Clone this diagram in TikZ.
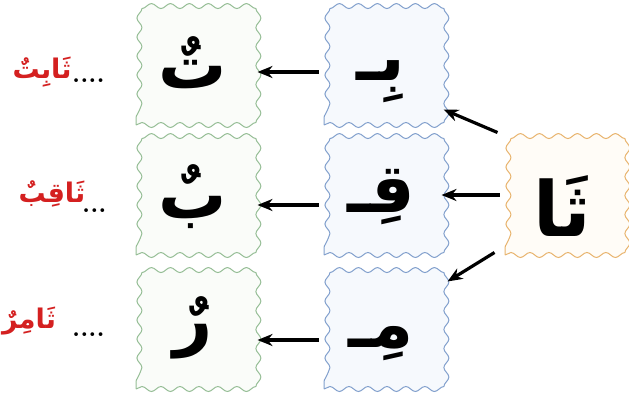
\documentclass[tikz,border=0pt]{standalone}
\usepackage{fontspec}
\usetikzlibrary{decorations.pathmorphing,arrows.meta}
\TeXXeTstate=1
\newfontfamily\arabicfont[Script=Arabic]{DejaVu Sans}
\definecolor{gbord}{RGB}{150,190,150}
\definecolor{gfill}{RGB}{250,252,249}
\definecolor{bbord}{RGB}{130,160,205}
\definecolor{bfill}{RGB}{246,249,253}
\definecolor{obord}{RGB}{232,180,110}
\definecolor{ofill}{RGB}{255,252,247}
\definecolor{wordred}{RGB}{212,32,32}
\tikzset{
  wavybox/.style={draw, decorate, decoration={snake, amplitude=2.5pt, segment length=18.99pt},
    minimum width=114pt, minimum height=114pt, inner sep=0pt, line width=1pt},
  gbox/.style={wavybox, draw=gbord, fill=gfill},
  bbox/.style={wavybox, draw=bbord, fill=bfill},
  obox/.style={wavybox, draw=obord, fill=ofill},
  letter/.style={anchor=base, inner sep=0pt, font=\arabicfont\bfseries\fontsize{68}{72}\selectfont},
  bigletter/.style={letter, font=\arabicfont\bfseries\fontsize{76}{80}\selectfont},
  arr/.style={-{Stealth[length=15pt,width=12pt]}, line width=3.2pt, black},
  word/.style={text=wordred, font=\arabicfont\bfseries\fontsize{27}{30}\selectfont, inner sep=0pt},
  dots/.style={font=\bfseries\fontsize{26}{28}\selectfont, inner sep=0pt, anchor=base west}
}
\begin{document}
\begin{tikzpicture}[x=1pt,y=-1pt]
\useasboundingbox (0,0) rectangle (629,402);
\fill[white] (0,0) rectangle (629,402);
% green boxes
\node[gbox] (g1) at (193,68) {};
\node[gbox] (g2) at (193,198) {};
\node[gbox] (g3) at (193,332) {};
% blue boxes
\node[bbox] (b1) at (381,68) {};
\node[bbox] (b2) at (381,198) {};
\node[bbox] (b3) at (381,332) {};
% orange box
\node[obox] (o) at (562,198) {};
% letters
\node[letter] (lg1) at ([shift={(0,20)}]g1.center) {\beginR تٌ\endR};
\node[letter] (lg2) at ([shift={(0,20)}]g2.center) {\beginR بٌ\endR};
\node[letter] (lg3) at ([shift={(0,10)}]g3.center) {\beginR رٌ\endR};
\node[letter] (lb1) at ([shift={(0,12)}]b1.center) {\beginR بِـ\endR};
\node[letter] (lb2) at ([shift={(0,14)}]b2.center) {\beginR قِـ\endR};
\node[letter] (lb3) at ([shift={(0,15)}]b3.center) {\beginR مِـ\endR};
\node[bigletter] (lo) at ([shift={(0,38)}]o.center) {\beginR ثَا\endR};
% arrows
\draw[arr] ([shift={(-5,4)}]b1.west) -- ([shift={(7,4)}]g1.east);
\draw[arr] ([shift={(-5,7)}]b2.west) -- ([shift={(7,7)}]g2.east);
\draw[arr] ([shift={(-5,8)}]b3.west) -- ([shift={(7,8)}]g3.east);
\draw[arr] ([shift={(-5,-3)}]o.west) -- ([shift={(3,-3)}]b2.east);
\draw[arr] ([shift={(-7,-8)}]o.north west) -- ([shift={(5,-16)}]b1.south east);
\draw[arr] ([shift={(-10,-3)}]o.south west) -- ([shift={(9,7)}]b3.north east);
% labels
\node[word] (w1) at (42,72) {\beginR ثَابِتٌ\endR};
\node[dots] (d1) at (72,82) {....};
\node[word] (w2) at (52,194) {\beginR ثَاقِبٌ\endR};
\node[dots] (d2) at (82,212) {...};
\node[word] (w3) at (29,321) {\beginR ثَامِرٌ\endR};
\node[dots] (d3) at (72,336) {....};
\end{tikzpicture}
\end{document}
